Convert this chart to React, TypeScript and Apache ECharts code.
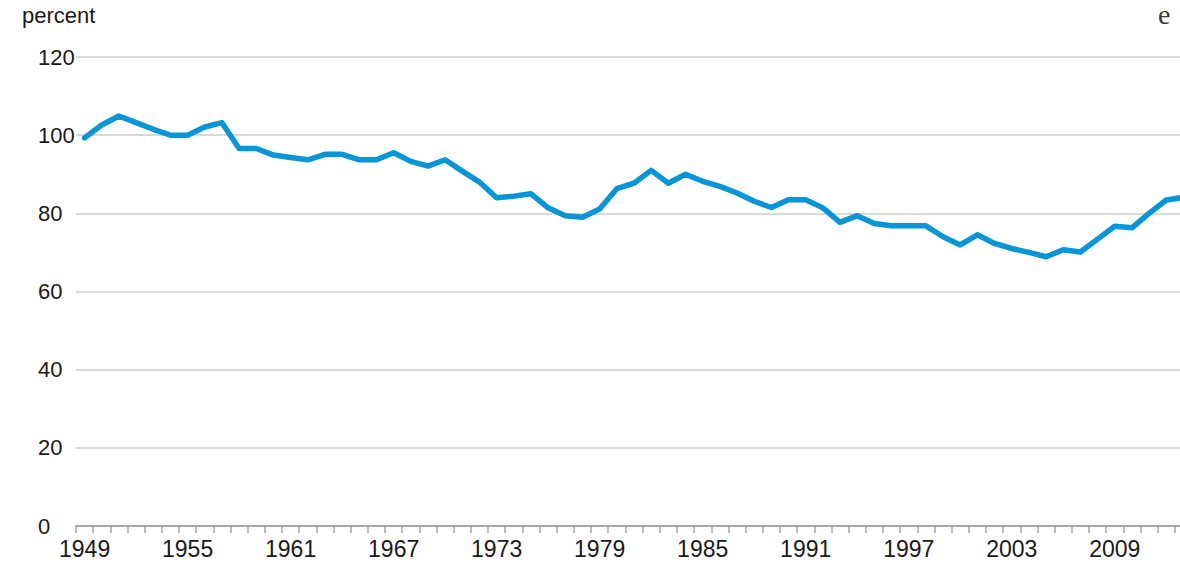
import React, { useEffect, useRef } from "react";
import * as echarts from "echarts";

const years: string[] = [];
for (let y = 1949; y <= 2013; y++) years.push(String(y));

const percentValues: number[] = [
  99.3, 102.6, 104.9, 103.2, 101.5, 100.0, 100.0, 102.1, 103.2, 96.6,
  96.6, 94.9, 94.3, 93.7, 95.1, 95.1, 93.7, 93.7, 95.5, 93.3,
  92.1, 93.7, 90.8, 88.0, 84.0, 84.4, 85.0, 81.4, 79.4, 79.0,
  81.1, 86.3, 87.7, 91.0, 87.7, 90.0, 88.2, 86.9, 85.2, 83.1,
  81.5, 83.5, 83.5, 81.4, 77.7, 79.4, 77.4, 76.8, 76.8, 76.8,
  74.0, 71.9, 74.5, 72.3, 71.0, 70.0, 68.9, 70.7, 70.1, 73.4,
  76.7, 76.3, 80.0, 83.4, 84.1,
];

const yTicks = { min: 0, max: 120, interval: 20 };
const unitLabel = "percent";

export default function App() {
  const ref = useRef<HTMLDivElement>(null);
  useEffect(() => {
    if (!ref.current) return;
    const chart = echarts.init(ref.current, undefined, { renderer: "svg" });
    const font = "'Liberation Sans', Arial, sans-serif";
    chart.setOption({
      animation: false,
      backgroundColor: "#ffffff",
      grid: { left: 76, right: 8, top: 57, bottom: 52, containLabel: false },
      xAxis: {
        type: "category",
        data: years,
        boundaryGap: true,
        axisLine: { show: true, lineStyle: { color: "#a6a6a6", width: 2 } },
        axisTick: { show: true, interval: 0, length: 7, lineStyle: { color: "#a6a6a6", width: 1.5 } },
        axisLabel: {
          interval: 5,
          margin: 11,
          fontSize: 23,
          fontFamily: font,
          color: "#1a1a1a",
        },
        splitLine: { show: false },
      },
      yAxis: {
        type: "value",
        min: yTicks.min,
        max: yTicks.max,
        interval: yTicks.interval,
        axisLine: { show: false },
        axisTick: { show: false },
        axisLabel: {
          align: "left",
          margin: 38,
          fontSize: 22,
          fontFamily: font,
          color: "#1a1a1a",
        },
        splitLine: { show: true, lineStyle: { color: "#d9d9d9", width: 2 } },
      },
      series: [
        {
          type: "line",
          data: percentValues,
          symbol: "none",
          smooth: false,
          lineStyle: { color: "#0795d6", width: 5.5, join: "round", cap: "round" },
          z: 3,
        },
      ],
      graphic: [
        {
          type: "text",
          left: 22,
          top: 4,
          style: { text: unitLabel, fontSize: 22, fontFamily: font, fill: "#1a1a1a" },
        },
        {
          type: "text",
          left: 1158,
          top: 0,
          style: { text: "e", fontSize: 28, fontFamily: "'Liberation Serif', serif", fill: "#3a3a3a" },
        },
      ],
    });
    return () => chart.dispose();
  }, []);
  return (
    <div style={{ position: "fixed", left: 0, top: 0, width: 1180, height: 578, overflow: "hidden", background: "#fff" }}>
      <div ref={ref} style={{ width: 1200, height: 578 }} />
    </div>
  );
}
